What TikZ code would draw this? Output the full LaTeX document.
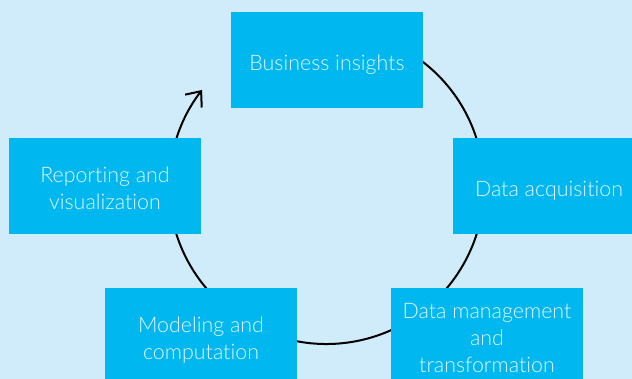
\documentclass[tikz,border=0pt]{standalone}
\usepackage{fontspec}
\setmainfont{Lato}[UprightFont={* Light},Ligatures={NoCommon}]
\usetikzlibrary{arrows.meta}
\definecolor{bgc}{RGB}{208,236,250}
\definecolor{boxc}{RGB}{0,183,240}
\definecolor{txtc}{RGB}{228,246,253}
\newcommand{\lowtext}[1]{\raisebox{-4.5pt}[\height][\depth]{\begin{tabular}{@{}c@{}}#1\end{tabular}}}
\begin{document}
\begin{tikzpicture}[x=1pt,y=-1pt,
  stage/.style={fill=boxc, minimum width=192pt, minimum height=96pt,
    inner sep=0pt, text=txtc, align=center,
    font=\fontsize{21.4}{27}\selectfont},
  cyc/.style={line width=2pt, draw=black}]
\fill[bgc] (0,0) rectangle (632,379);
\useasboundingbox (0,0) rectangle (632,379);
\coordinate (c) at (326.5,186.5);
\draw[cyc, -{Straight Barb[length=12.5pt,width=21pt]}]
  (c) ++(-60:157.5) arc[start angle=-60, end angle=217.8, radius=157.5];
\node[stage] (bi) at (327,60.5) {\lowtext{Business insights}};
\node[stage] (da) at (549,186.5) {\lowtext{Data acquisition}};
\node[stage] (dm) at (487,336) {\lowtext{Data management\\and\\transformation}};
\node[stage] (mc) at (201,336) {\lowtext{Modeling and\\computation}};
\node[stage] (rv) at (105,186.5) {\lowtext{Reporting and\\visualization}};
\end{tikzpicture}
\end{document}
